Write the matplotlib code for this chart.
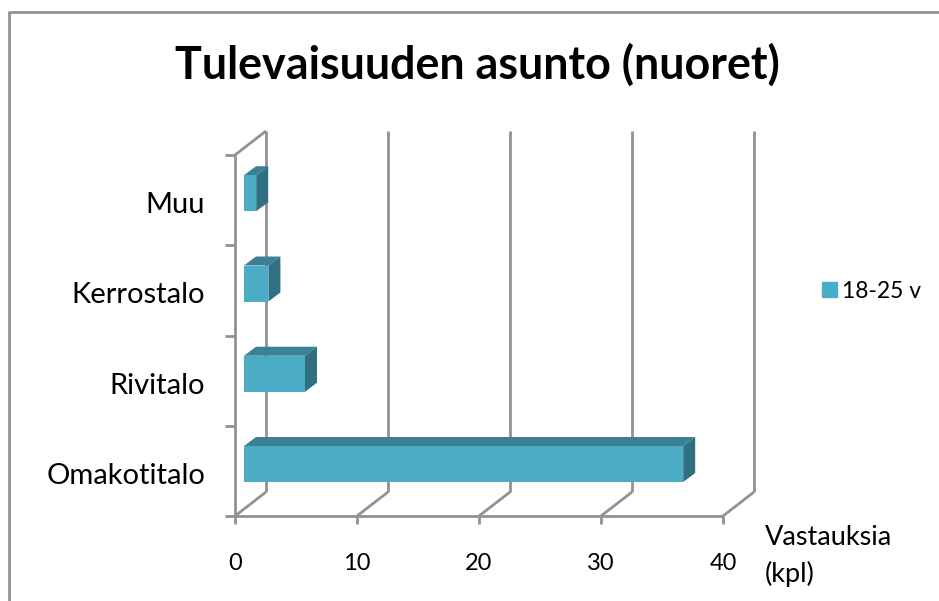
import matplotlib
matplotlib.use('Agg')
import matplotlib.pyplot as plt
from matplotlib.lines import Line2D
from matplotlib.patches import Patch

categories = ['Omakotitalo', 'Rivitalo', 'Kerrostalo', 'Muu']
values = [36, 5, 2, 1]
x_ticks = [0, 10, 20, 30, 40]
series_name = '18-25 v'
title = 'Tulevaisuuden asunto (nuoret)'
x_name = 'Vastauksia\n(kpl)'

W, H = 939, 601
GRID = '#929292'
FRONT = '#4bacc6'
TOP = '#3a8195'
SIDE = '#316f82'

plt.rcParams['font.family'] = ['Lato', 'DejaVu Sans']

fig = plt.figure(figsize=(W / 100, H / 100), dpi=100)
# akselin alue = 3D-kuvion etutaso pikseleinä
ax = fig.add_axes([235 / W, 1 - 516 / H, (723 - 235) / W, (516 - 155) / H])
ax.set_xlim(0, 40)
ax.set_ylim(0, len(categories))
ax.axis('off')

# syvyys data-yksiköissä
px_x = 40 / (723 - 235)
px_y = len(categories) / (516 - 155)
dx, dy = 31 * px_x, 24 * px_y
bar_dx, bar_dy = 12 * px_x, 9 * px_y
inset = 9 * px_x
bar_h = 36 * px_y
bar_off = 34 * px_y


def seg(xs, ys, lw=2.0, z=1):
    ax.add_line(Line2D(xs, ys, color=GRID, lw=lw, clip_on=False, zorder=z,
                       solid_capstyle='butt'))


# ristikko ja lattia
top = len(categories)
for t in x_ticks:
    seg([t + dx, t + dx], [dy, top + dy])
    seg([t, t + dx], [0, dy])
    seg([t, t], [0, -8 * px_y])
seg([0, 40], [0, 0])
seg([0, 0], [0, top])
seg([0, dx], [top, top + dy])
for i in range(len(categories) + 1):
    seg([-10 * px_x, 0], [i, i])

# palkit
for i, v in enumerate(values):
    x0, x1 = inset, v + inset
    y0 = i + bar_off
    y1 = y0 + bar_h
    ax.fill([x0, x1, x1 + bar_dx, x0 + bar_dx], [y1, y1, y1 + bar_dy, y1 + bar_dy],
            color=TOP, lw=0, clip_on=False, zorder=3)
    ax.fill([x1, x1 + bar_dx, x1 + bar_dx, x1], [y0, y0 + bar_dy, y1 + bar_dy, y1],
            color=SIDE, lw=0, clip_on=False, zorder=3)
    ax.fill([x0, x1, x1, x0], [y0, y0, y1, y1], color=FRONT, lw=0, clip_on=False, zorder=4)
    ax.text(-30 * px_x, i + 0.5 - 5 * px_y, categories[i], ha='right', va='center',
            fontsize=21, color='#000000')

for t in x_ticks:
    ax.text(t, -47 * px_y, str(t), ha='center', va='center', fontsize=17, color='#000000')

fig.text(765 / W, 1 - 556 / H, x_name, ha='left', va='center', fontsize=19.5,
         color='#000000', linespacing=1.55)
fig.text(477 / W, 1 - 65 / H, title, ha='center', va='center', fontsize=32.3,
         fontweight='bold', color='#000000')

fig.legend(handles=[Patch(color=FRONT, label=series_name)], loc='center left',
           bbox_to_anchor=(801 / W, 1 - 291 / H), frameon=False, fontsize=16.5,
           handlelength=0.65, handleheight=0.65, handletextpad=0.25)

# kaavion kehys, oikea ja ala jäävät kuvan ulkopuolelle
fig.add_artist(Line2D([8.5 / W, 8.5 / W, 1], [0, 1 - 11.5 / H, 1 - 11.5 / H],
                      color=GRID, lw=2.0, transform=fig.transFigure))

fig.savefig('out.png', dpi=100)
